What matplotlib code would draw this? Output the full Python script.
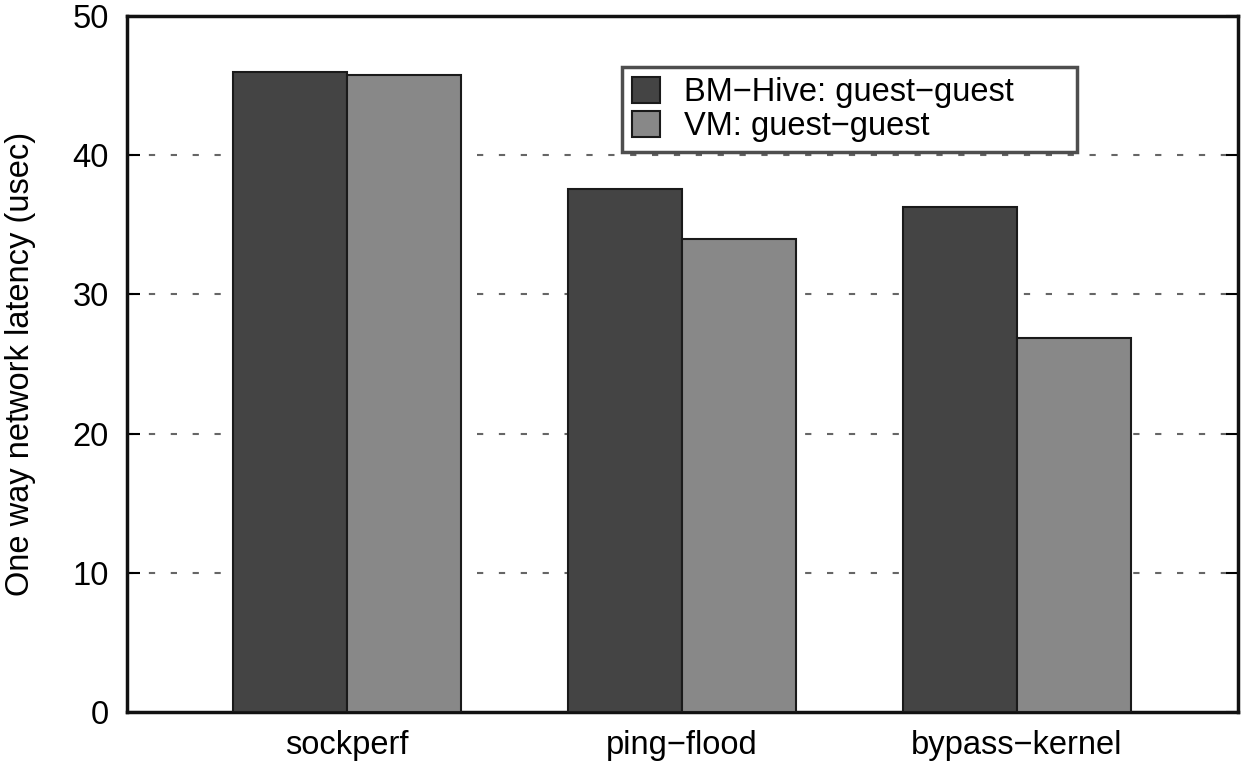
import matplotlib
matplotlib.use("Agg")
import matplotlib.pyplot as plt
import numpy as np

# ---------- 数据 ----------
benchmarks = ["sockperf", "ping\u2212flood", "bypass\u2212kernel"]
bm_hive = [46.0, 37.6, 36.3]
vm = [45.8, 34.0, 26.9]
series_names = ["BM\u2212Hive: guest\u2212guest", "VM: guest\u2212guest"]
yticks = [0, 10, 20, 30, 40, 50]

plt.rcParams['font.family'] = ['Liberation Sans', 'DejaVu Sans']
FS = 23.5

fig = plt.figure(figsize=(12.56, 7.64), dpi=100)
ax = fig.add_axes([0.101, 0.068, 0.8847, 0.911])

x = np.arange(len(benchmarks))
w = 0.34
ax.bar(x - w / 2, bm_hive, w, color='#444444', edgecolor='#1a1a1a',
       linewidth=1.5, label=series_names[0], zorder=3)
ax.bar(x + w / 2, vm, w, color='#888888', edgecolor='#1a1a1a',
       linewidth=1.5, label=series_names[1], zorder=3)

# ---- 轴 ----
ax.set_xlim(-0.657, 2.66)
ax.set_ylim(0, 50)
ax.set_yticks(yticks)
ax.set_xticks(x)
ax.set_xticklabels(benchmarks, fontsize=FS)
ax.tick_params(axis='y', labelsize=FS, direction='in', length=9, width=1.5,
               right=True, pad=13)
ax.tick_params(axis='x', length=0, pad=13)
ax.set_ylabel("One way network latency (usec)", fontsize=FS, labelpad=26)

for y in yticks[1:-1]:
    ax.axhline(y, color='#666666', linestyle=(0, (3, 7.5)), linewidth=1.5, zorder=1)

for sp in ax.spines.values():
    sp.set_linewidth(2.5)
    sp.set_color('#111111')

# 图例框固定宽度 (623-1077 px)
leg = ax.legend(loc='upper left', bbox_to_anchor=(0.446, 0.927, 0.409, 0.0),
                mode='expand', borderaxespad=0, fontsize=FS, frameon=True,
                fancybox=False, handlelength=0.85, handleheight=0.85,
                handletextpad=0.75, labelspacing=0.08, borderpad=0.3)
leg.get_frame().set_edgecolor('#222222')
leg.get_frame().set_linewidth(2.5)
leg.set_zorder(5)

fig.savefig("out.png", dpi=100)
